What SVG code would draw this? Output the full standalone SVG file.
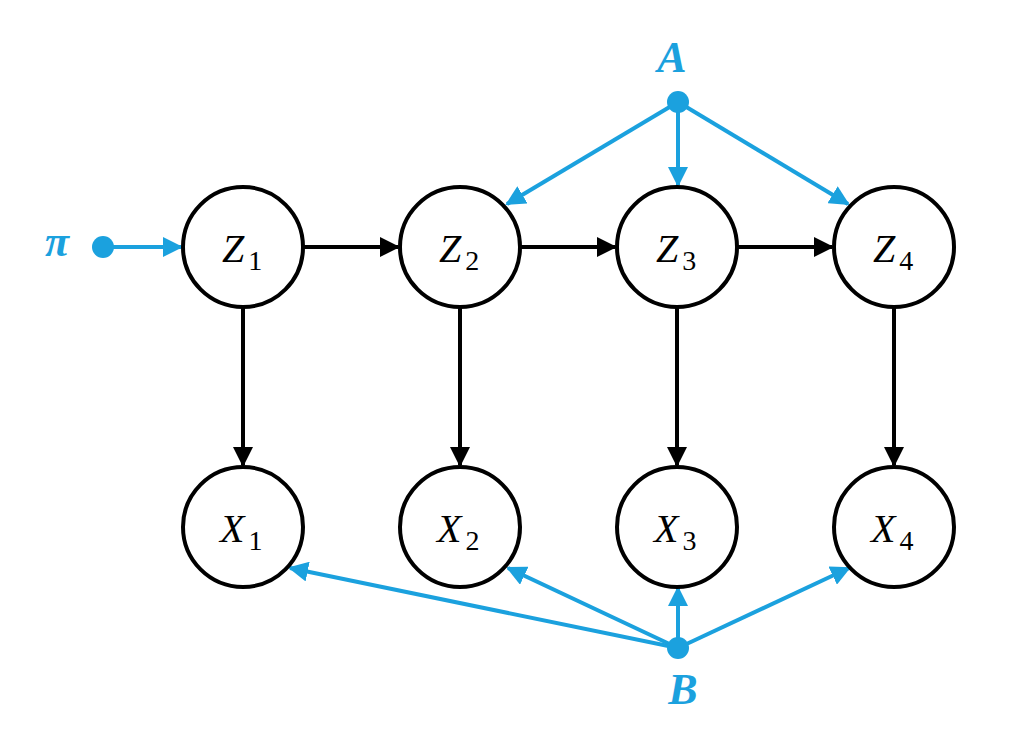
<svg xmlns="http://www.w3.org/2000/svg" width="1024" height="731" viewBox="0 0 1024 731">
<style>
.n{fill:#fff;stroke:#000;stroke-width:4}
.t{font-family:"Liberation Serif",serif;font-style:italic;font-size:40px}
.s{font-family:"Liberation Serif",serif;font-size:28px}
.k{stroke:#000;stroke-width:4;fill:none}
.b{stroke:#1ba1de;stroke-width:4;fill:none}
.bl{font-family:"Liberation Serif",serif;font-style:italic;font-weight:bold;font-size:44px;fill:#1ba1de}
</style>
<defs>
<marker id="ak" viewBox="0 0 10 10" refX="9" refY="5" markerWidth="5" markerHeight="5" orient="auto"><path d="M0,0L10,5L0,10z" fill="#000"/></marker>
<marker id="ab" viewBox="0 0 10 10" refX="9" refY="5" markerWidth="5" markerHeight="5" orient="auto"><path d="M0,0L10,5L0,10z" fill="#1ba1de"/></marker>
</defs>
<rect width="1024" height="731" fill="#fff"/>
<g id="connectors">
<line class="k" x1="303" y1="247" x2="398" y2="247" marker-end="url(#ak)"/>
<line class="k" x1="520" y1="247" x2="615" y2="247" marker-end="url(#ak)"/>
<line class="k" x1="737" y1="247" x2="832" y2="247" marker-end="url(#ak)"/>
<line class="k" x1="243" y1="308" x2="243" y2="465" marker-end="url(#ak)"/>
<line class="k" x1="460" y1="308" x2="460" y2="465" marker-end="url(#ak)"/>
<line class="k" x1="677" y1="308" x2="677" y2="465" marker-end="url(#ak)"/>
<line class="k" x1="894" y1="308" x2="894" y2="465" marker-end="url(#ak)"/>
<line class="b" x1="103" y1="247" x2="181" y2="247" marker-end="url(#ab)"/>
<line class="b" x1="678" y1="102" x2="507" y2="204" marker-end="url(#ab)"/>
<line class="b" x1="678" y1="102" x2="678" y2="185" marker-end="url(#ab)"/>
<line class="b" x1="678" y1="102" x2="848" y2="204" marker-end="url(#ab)"/>
<line class="b" x1="678" y1="648" x2="290" y2="568" marker-end="url(#ab)"/>
<line class="b" x1="678" y1="648" x2="508" y2="568" marker-end="url(#ab)"/>
<line class="b" x1="678" y1="648" x2="678" y2="588" marker-end="url(#ab)"/>
<line class="b" x1="678" y1="648" x2="849" y2="568" marker-end="url(#ab)"/>
<circle cx="103" cy="247" r="11" fill="#1ba1de"/>
<circle cx="678" cy="102" r="11" fill="#1ba1de"/>
<circle cx="678" cy="648" r="11" fill="#1ba1de"/>
</g>
<g id="Z1"><circle class="n" cx="243" cy="247" r="60"/><text class="t" x="222" y="262">Z<tspan class="s" dx="4" dy="8" font-style="normal">1</tspan></text></g>
<g id="Z2"><circle class="n" cx="460" cy="247" r="60"/><text class="t" x="439" y="262">Z<tspan class="s" dx="4" dy="8" font-style="normal">2</tspan></text></g>
<g id="Z3"><circle class="n" cx="677" cy="247" r="60"/><text class="t" x="656" y="262">Z<tspan class="s" dx="4" dy="8" font-style="normal">3</tspan></text></g>
<g id="Z4"><circle class="n" cx="894" cy="247" r="60"/><text class="t" x="873" y="262">Z<tspan class="s" dx="4" dy="8" font-style="normal">4</tspan></text></g>
<g id="X1"><circle class="n" cx="243" cy="527" r="60"/><text class="t" x="220" y="542">X<tspan class="s" dx="4" dy="8" font-style="normal">1</tspan></text></g>
<g id="X2"><circle class="n" cx="460" cy="527" r="60"/><text class="t" x="437" y="542">X<tspan class="s" dx="4" dy="8" font-style="normal">2</tspan></text></g>
<g id="X3"><circle class="n" cx="677" cy="527" r="60"/><text class="t" x="654" y="542">X<tspan class="s" dx="4" dy="8" font-style="normal">3</tspan></text></g>
<g id="X4"><circle class="n" cx="894" cy="527" r="60"/><text class="t" x="871" y="542">X<tspan class="s" dx="4" dy="8" font-style="normal">4</tspan></text></g>
<g id="labels">
<text class="bl" x="672" y="72" text-anchor="middle">A</text>
<text class="bl" x="683" y="704" text-anchor="middle">B</text>
<text class="bl" x="57" y="256" text-anchor="middle">π</text>
</g>
</svg>
